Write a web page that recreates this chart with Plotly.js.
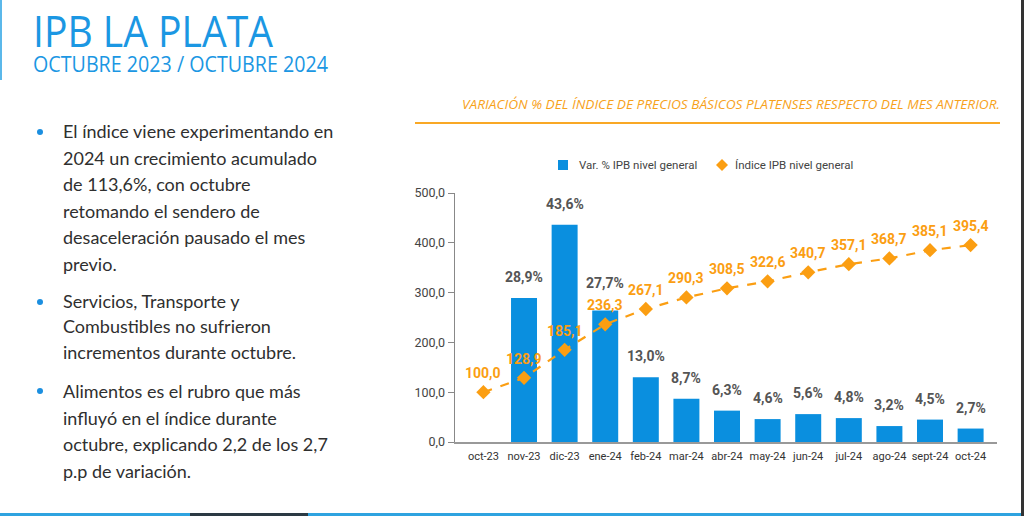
<!DOCTYPE html>
<html>
<head>
<meta charset="utf-8">
<script src="https://cdn.plot.ly/plotly-3.0.1.min.js"></script>
<style>
  html, body { margin:0; padding:0; background:#fff; }
  #page { position:relative; width:1024px; height:516px; overflow:hidden; background:#fff; }
  #chart { position:absolute; left:0; top:0; width:1024px; height:516px; }
  .abs { position:absolute; white-space:nowrap; transform-origin:0 0; }
  #title { left:33px; top:9px; font-family:'Open Sans',sans-serif; font-weight:400; font-size:44px; color:#1b97e3; line-height:42px; }
  #subtitle { left:33px; top:52px; font-family:'Open Sans',sans-serif; font-size:21px; color:#1b97e3; line-height:24px; }
  #header { top:96px; font-family:'Open Sans',sans-serif; font-style:italic; font-size:12.5px; color:#f7a21b; line-height:18px; }
  .para { position:absolute; left:63px; font-family:'Lato','Open Sans',sans-serif; font-size:18px; color:#2f2f2f; line-height:26.6px; white-space:nowrap; }
  .dot { position:absolute; left:37px; width:6px; height:6px; border-radius:3px; background:#1b8fe0; }
  .leg { position:absolute; font-family:'Roboto',sans-serif; font-size:11.5px; color:#444; line-height:14px; white-space:nowrap; }
</style>
</head>
<body>
<div id="page">
  <div id="chart"></div>
  <div style="position:absolute;left:0;top:0;width:2px;height:80px;background:#5bb8ea;"></div>
  <div id="title" class="abs">IPB LA PLATA</div>
  <div id="subtitle" class="abs">OCTUBRE 2023 / OCTUBRE 2024</div>
  <div id="header" class="abs">VARIACIÓN % DEL ÍNDICE DE PRECIOS BÁSICOS PLATENSES RESPECTO DEL MES ANTERIOR.</div>
  <div style="position:absolute;left:415px;top:122px;width:585px;height:2px;background:#f9a825;"></div>

  <div class="dot" style="top:129px;"></div>
  <div class="para" style="top:118px;">El índice viene experimentando en<br>2024 un crecimiento acumulado<br>de 113,6%, con octubre<br>retomando el sendero de<br>desaceleración pausado el mes<br>previo.</div>
  <div class="dot" style="top:299px;"></div>
  <div class="para" style="top:289px;line-height:25.3px;">Servicios, Transporte y<br>Combustibles no sufrieron<br>incrementos durante octubre.</div>
  <div class="dot" style="top:388px;"></div>
  <div class="para" style="top:378px;">Alimentos es el rubro que más<br>influyó en el índice durante<br>octubre, explicando 2,2 de los 2,7<br>p.p de variación.</div>

  <div style="position:absolute;left:0;top:513px;width:1024px;height:3px;background:#2ea3e0;"></div>
  <div style="position:absolute;left:190px;top:513px;width:118px;height:3px;background:#2c3a44;"></div>
  <div style="position:absolute;left:1021px;top:0;width:3px;height:516px;background:#333;"></div>
</div>
<script>
// ---- data ----
const meses = ['oct-23','nov-23','dic-23','ene-24','feb-24','mar-24','abr-24','may-24','jun-24','jul-24','ago-24','sept-24','oct-24'];
// Var. % IPB nivel general (labels)
const varPct = [null, 28.9, 43.6, 27.7, 13.0, 8.7, 6.3, 4.6, 5.6, 4.8, 3.2, 4.5, 2.7];
// bar heights as drawn in the picture (x10 on the shared axis)
const varBarra = [null, 28.9, 43.6, 26.4, 13.0, 8.7, 6.3, 4.6, 5.6, 4.8, 3.2, 4.5, 2.7];
// Índice IPB nivel general
const indice = [100.0, 128.9, 185.1, 236.3, 267.1, 290.3, 308.5, 322.6, 340.7, 357.1, 368.7, 385.1, 395.4];
const nombres = ['Var. % IPB nivel general', 'Índice IPB nivel general'];
const escalaBarra = 10;

const azul = '#0a8fdf';
const naranja = '#fb9e12';
const fmt = (v, d) => v.toFixed(d).replace('.', ',');

const traces = [
  { type:'bar', name:nombres[0], x:meses, y:varBarra.map(v => v==null?null:v*escalaBarra),
    marker:{color:azul}, width:0.64, hoverinfo:'skip' },
  { type:'scatter', mode:'lines', x:meses, y:indice,
    line:{color:naranja, width:2.2, dash:'dash'}, hoverinfo:'skip' },
  { type:'scatter', mode:'markers', name:nombres[1], x:meses, y:indice,
    marker:{symbol:'diamond', size:11, color:naranja}, hoverinfo:'skip' }
];

const annotations = [];
meses.forEach((m, i) => {
  if (varPct[i] != null) {
    annotations.push({ x:m, y:varPct[i]*escalaBarra, xref:'x', yref:'y', text:'<b>'+fmt(varPct[i],1)+'%</b>',
      showarrow:false, yanchor:'middle', yshift:21, font:{family:'Roboto', size:14, color:'#555'} });
  }
  annotations.push({ x:m, y:indice[i], xref:'x', yref:'y', text:'<b>'+fmt(indice[i],1)+'</b>',
    showarrow:false, yanchor:'middle', yshift:19, font:{family:'Roboto', size:14, color:naranja} });
});

// legend drawn as paper-anchored shapes + annotations
const shapes = [
  { type:'rect', xref:'paper', yref:'paper', x0:(558-455)/542, x1:(568-455)/542, y0:(442-170)/249, y1:(442-160)/249,
    fillcolor:azul, line:{width:0} },
  { type:'path', xref:'paper', yref:'paper',
    path:'M '+((722-455)/542)+' '+((442-159)/249)+' L '+((728-455)/542)+' '+((442-165)/249)+' L '+((722-455)/542)+' '+((442-171)/249)+' L '+((716-455)/542)+' '+((442-165)/249)+' Z',
    fillcolor:naranja, line:{width:0} }
];
annotations.push({ xref:'paper', yref:'paper', x:(577-455)/542, y:(442-165)/249, xanchor:'left', yanchor:'middle',
  text:nombres[0], showarrow:false, font:{family:'Roboto', size:11.5, color:'#444'} });
annotations.push({ xref:'paper', yref:'paper', x:(733-455)/542, y:(442-165)/249, xanchor:'left', yanchor:'middle',
  text:nombres[1], showarrow:false, font:{family:'Roboto', size:11.5, color:'#444'} });

const layout = {
  width:1024, height:516,
  margin:{l:455, r:27, t:193, b:74, pad:0},
  paper_bgcolor:'rgba(0,0,0,0)', plot_bgcolor:'rgba(0,0,0,0)',
  separators:',.',
  showlegend:false,
  xaxis:{type:'category', range:[-0.7, 12.65], showline:true, linecolor:'#999', linewidth:1.5,
    ticks:'outside', ticklen:3, tickcolor:'rgba(0,0,0,0)', showgrid:false, zeroline:false,
    tickfont:{family:'Roboto', size:11, color:'#333'}},
  yaxis:{range:[0,500], tickvals:[0,100,200,300,400,500], tickformat:'.1f', showline:true, linecolor:'#888', linewidth:1.5,
    ticks:'outside', ticklen:6, tickcolor:'#888', showgrid:false, zeroline:false,
    tickfont:{family:'Roboto', size:12.5, color:'#444'}},
  annotations:annotations,
  shapes:shapes
};

Plotly.newPlot('chart', traces, layout, {displayModeBar:false, staticPlot:true});

// fit headline texts to their widths in the reference
function fit(id, w, rightEdge) {
  const el = document.getElementById(id);
  const r = el.getBoundingClientRect();
  const s = w / r.width;
  el.style.transform = 'scaleX(' + s + ')';
  if (rightEdge) el.style.left = (rightEdge - w) + 'px';
}
fit('title', 240);
fit('subtitle', 295);
fit('header', 538, 1000);
</script>
</body>
</html>
